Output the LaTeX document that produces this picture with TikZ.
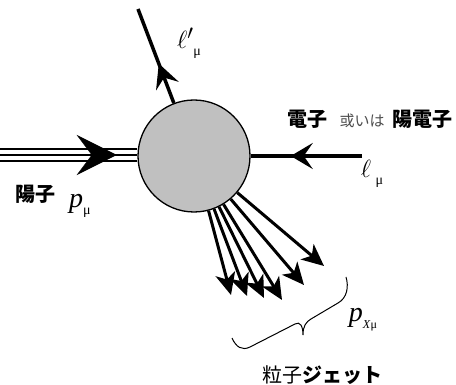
\documentclass[tikz,border=0pt]{standalone}
\usepackage{fontspec}
\setmainfont{Liberation Serif}
\newfontfamily\cjk{Noto Sans CJK JP}
\usetikzlibrary{arrows.meta,decorations.markings}
\newcommand\musub[1]{\raisebox{-0.55ex}{\fontsize{14pt}{14pt}\selectfont #1}}
\begin{document}
\begin{tikzpicture}[x=1pt,y=-1pt,
  lep/.style={line width=3.5pt},
  jet/.style={line width=3pt,-{Stealth[length=22pt,width=20pt,inset=6pt]}},
  midarrow/.style 2 args={postaction={decorate},decoration={markings,
      mark=at position #1 with {\arrow{Stealth[#2]}}}},
  bold/.style={font=\cjk\bfseries\fontsize{20pt}{20pt}\selectfont},
  lbl/.style={font=\fontsize{28pt}{28pt}\selectfont, inner sep=0pt}]
\useasboundingbox (0,0) rectangle (456,385);
\node[circle, fill={rgb,255:red,192;green,192;blue,192}, draw, line width=1.3pt,
      minimum size=112pt, inner sep=0pt] (c) at (194,156) {};
% outgoing lepton
\coordinate (top) at (138,9);
\draw[lep, midarrow={0.42}{length=24pt,width=24pt,inset=9pt}] (c) -- (top);
% incoming lepton
\coordinate (e0) at (362,156);
\draw[lep, midarrow={0.64}{length=22pt,width=26pt,inset=9pt}] (e0) -- (c);
% proton (triple line)
\coordinate (p0) at (0,155);
\draw[line width=14pt] (p0) -- (c.west |- p0);
\draw[line width=10pt, white] (p0) -- (c.west |- p0);
\draw[line width=2pt] (p0) -- (c.west |- p0);
\path[midarrow={0.85}{length=40pt,width=40pt,inset=15pt}] (p0) -- (c.west |- p0);
% jets
\coordinate (j1) at (231,295);
\coordinate (j2) at (247,296);
\coordinate (j3) at (264,298);
\coordinate (j4) at (282,300);
\coordinate (j5) at (304,285);
\coordinate (j6) at (324,266);
\draw[jet] (c) -- (j1);
\draw[jet] (c) -- (j2);
\draw[jet] (c) -- (j3);
\draw[jet] (c) -- (j4);
\draw[jet] (c) -- (j5);
\draw[jet] (c) -- (j6);
% brace
\draw[line width=1pt]
  (232,338) .. controls (236,347) and (242,351) .. (250,347) -- (295,324)
  .. controls (300,321) and (303,326) .. (303,335)
  .. controls (303,326) and (306,322) .. (311,319) -- (338,303)
  .. controls (347,298) and (349,287) .. (346,277);
% labels
\node[lbl] (lp) at (189,43) {$\ell'$\musub{μ}};
\node[inner sep=0pt] (el) at (370,119) {{\cjk\bfseries\fontsize{20pt}{20pt}\selectfont 電子}\hspace{12pt}{\cjk\fontsize{15pt}{15pt}\selectfont\color{black!70}或いは}\hspace{8pt}{\cjk\bfseries\fontsize{20pt}{20pt}\selectfont 陽電子}};
\node[lbl] (l) at (372,174) {$\ell$\,\musub{μ}};
\node[bold, inner sep=0pt] (pr) at (36,194) {陽子};
\node[lbl] (p) at (80,206) {\textit{p}\musub{μ}};
\node[lbl] (px) at (363,320) {\textit{p}\musub{\fontsize{12pt}{12pt}\selectfont\textit{X}μ}};
\node[inner sep=0pt] (jt) at (322,375) {{\cjk\fontsize{20pt}{20pt}\selectfont 粒子}{\cjk\bfseries\fontsize{20pt}{20pt}\selectfont ジェット}};
\end{tikzpicture}
\end{document}
